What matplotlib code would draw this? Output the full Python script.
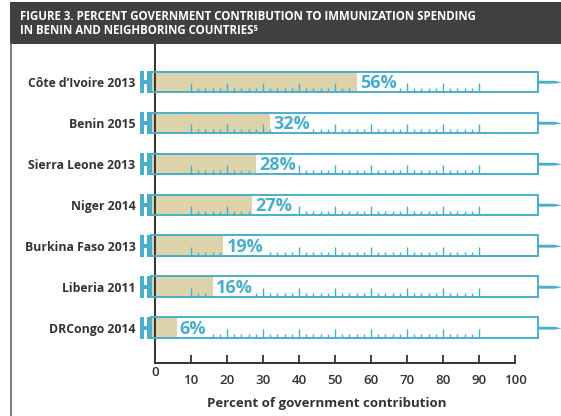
import matplotlib
matplotlib.use("Agg")
import matplotlib.pyplot as plt
from matplotlib.patches import Rectangle, Polygon
import numpy as np

countries = ["Côte d’Ivoire 2013", "Benin 2015", "Sierra Leone 2013", "Niger 2014",
             "Burkina Faso 2013", "Liberia 2011", "DRCongo 2014"]
values = [56, 32, 28, 27, 19, 16, 6]
xticks = [10, 20, 30, 40, 50, 60, 70, 80, 90, 100]
title_lines = ["FIGURE 3. PERCENT GOVERNMENT CONTRIBUTION TO IMMUNIZATION SPENDING",
               "IN BENIN AND NEIGHBORING COUNTRIES\u2075"]
xlabel = "Percent of government contribution"

FONT = "Open Sans"
BLUE = "#4aaecb"
TAN = "#ddd3ab"
DARK = "#333333"

W, H = 561, 416
fig = plt.figure(figsize=(W / 100, H / 100), dpi=100)

def fx(px): return px / W
def fy(py): return 1 - py / H

# title bar and frame
fig.patches.append(Rectangle((fx(10), fy(44)), 1 - fx(10), fy(2) - fy(44),
                             transform=fig.transFigure, facecolor="#404040",
                             edgecolor="none", zorder=0))
fig.add_artist(plt.Line2D([fx(10.5), fx(10.5)], [fy(44), 0], transform=fig.transFigure,
                          color="#666666", lw=1.2))
fig.text(fx(20), fy(16), title_lines[0], color="white", fontsize=8.3,
         fontweight="bold", family=FONT, va="center", ha="left")
fig.text(fx(20), fy(31), title_lines[1], color="white", fontsize=8.3,
         fontweight="bold", family=FONT, va="center", ha="left")

ax = fig.add_axes([fx(155), fy(363), fx(515) - fx(155), fy(44) - fy(363)])
ax.set_xlim(0, 100)
n = len(countries)
ax.set_ylim(6.854, -0.927)

hh = 0.256  # half height of syringe body
for i, v in enumerate(values):
    y = i
    # fill
    ax.add_patch(Rectangle((-1, y - hh), v + 1, 2 * hh, facecolor=TAN,
                           edgecolor="none", zorder=1, clip_on=False))
    # ticks
    for t in range(10, 91, 2):
        L = 0.22 if t % 10 == 0 else 0.12
        ax.plot([t, t], [y + hh, y + hh - L], color=BLUE, lw=1.0, zorder=2,
                solid_capstyle="butt", clip_on=False)
    # outline of barrel
    ax.add_patch(Rectangle((-1, y - hh), 107.4, 2 * hh, facecolor="none",
                           edgecolor=BLUE, lw=1.4, zorder=4, clip_on=False))
    # plunger H
    ax.add_patch(Rectangle((-4.2, y - 0.27), 1.2, 0.54, facecolor=BLUE,
                           edgecolor="none", zorder=5, clip_on=False))
    ax.add_patch(Rectangle((-3.0, y - 0.05), 0.9, 0.10, facecolor=BLUE,
                           edgecolor="none", zorder=5, clip_on=False))
    ax.add_patch(Rectangle((-2.1, y - 0.27), 1.1, 0.54, facecolor=BLUE,
                           edgecolor="none", zorder=5, clip_on=False))
    # needle
    ax.add_patch(Polygon([(106.4, y - 0.03), (111.0, y - 0.03), (113.0, y + 0.01),
                          (111.0, y + 0.04), (106.4, y + 0.04)], closed=True,
                         facecolor=BLUE, edgecolor="none", zorder=5, clip_on=False))
    # label
    ax.text(v + 0.9, y + 0.02, f"{v}%", color=BLUE, fontsize=13, fontweight="bold",
            family=FONT, ha="left", va="center", zorder=3,
            bbox=dict(boxstyle="square,pad=0.15", facecolor="white", edgecolor="none"))

ax.set_yticks(range(n))
ax.set_yticklabels(countries, fontsize=8.8, fontweight="bold", family=FONT, color=DARK)
ax.tick_params(axis="y", length=0, pad=14)

ax.set_xticks(xticks)
ax.set_xticklabels([str(t) for t in xticks], fontsize=9.5, family=FONT,
                   fontweight="semibold", color=DARK)
ax.tick_params(axis="x", direction="in", length=6, width=1.3, color=DARK, pad=8)
fig.text(fx(155), fy(372), "0", fontsize=9.5, family=FONT, fontweight="semibold",
         color=DARK, ha="center", va="center")

for s in ["top", "right"]:
    ax.spines[s].set_visible(False)
ax.spines["left"].set_color(DARK)
ax.spines["left"].set_linewidth(1.4)
ax.spines["bottom"].set_color(DARK)
ax.spines["bottom"].set_linewidth(1.4)
ax.set_facecolor("none")

fig.text(fx(327), fy(403), xlabel, fontsize=9.5, fontweight="bold", family=FONT,
         color=DARK, ha="center", va="center")

fig.savefig("out.png", dpi=100)
